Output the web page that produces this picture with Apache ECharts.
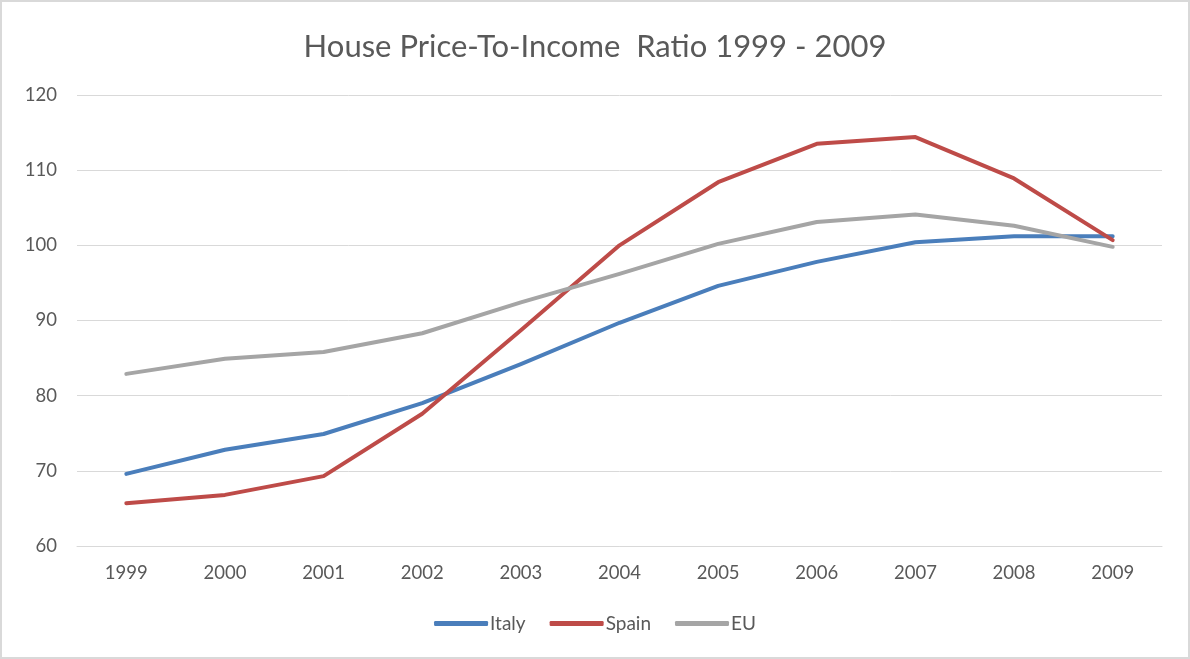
<!DOCTYPE html>
<html>
<head>
<meta charset="utf-8">
<script src="https://cdn.jsdelivr.net/npm/echarts@6/dist/echarts.min.js"></script>
<style>
    body { margin: 0; background: #fff; }
    #chart { width: 1190px; height: 659px; border: 2px solid #d9d9d9; box-sizing: border-box; }
</style>
</head>
<body>
<div id="chart"></div>
<script>
// Data
var years = ["1999", "2000", "2001", "2002", "2003", "2004", "2005", "2006", "2007", "2008", "2009"];
var italy = [69.6, 72.8, 74.9, 79.0, 84.2, 89.7, 94.6, 97.8, 100.4, 101.2, 101.2];
var spain = [65.7, 66.8, 69.3, 77.6, 88.7, 100.0, 108.4, 113.5, 114.4, 108.9, 100.7];
var eu = [82.9, 84.9, 85.8, 88.3, 92.4, 96.2, 100.2, 103.1, 104.1, 102.6, 99.8];

var textColor = "#595959";
var fontName = "Lato, 'Open Sans', sans-serif";

var chart = echarts.init(document.getElementById("chart"));

function makeSeries(name, data, color) {
    return {
        name: name,
        type: "line",
        data: data,
        symbol: "none",
        smooth: false,
        lineStyle: { width: 4, color: color, cap: "round", join: "round" },
        itemStyle: { color: color },
    };
}

var options = {
    animation: false,
    textStyle: { fontFamily: fontName },
    title: {
        text: "House Price-To-Income  Ratio 1999 - 2009",
        left: "center",
        top: 24,
        textStyle: { fontSize: 31, fontWeight: "normal", color: textColor, fontFamily: fontName },
    },
    legend: {
        data: ["Italy", "Spain", "EU"],
        bottom: 19,
        left: "center",
        icon: "roundRect",
        itemWidth: 54,
        itemHeight: 5,
        itemGap: 24,
        textStyle: { fontSize: 19, color: textColor, padding: [0, 0, 0, -3] },
    },
    grid: {
        left: 75,
        right: 26,
        top: 93,
        bottom: 111,
        containLabel: false,
    },
    xAxis: {
        type: "category",
        data: years,
        boundaryGap: true,
        axisLine: { lineStyle: { color: "#d9d9d9", width: 1 } },
        axisTick: { show: false },
        axisLabel: { fontSize: 18.5, color: textColor, margin: 18 },
    },
    yAxis: {
        type: "value",
        min: 60,
        max: 120,
        interval: 10,
        axisLine: { show: false },
        axisTick: { show: false },
        splitLine: { lineStyle: { color: "#d9d9d9", width: 1 } },
        axisLabel: { fontSize: 18.5, color: textColor, margin: 20 },
    },
    series: [
        makeSeries("Italy", italy, "#4a7ebb"),
        makeSeries("Spain", spain, "#be4b48"),
        makeSeries("EU", eu, "#a5a5a5"),
    ],
};

chart.setOption(options);
</script>
</body>
</html>
